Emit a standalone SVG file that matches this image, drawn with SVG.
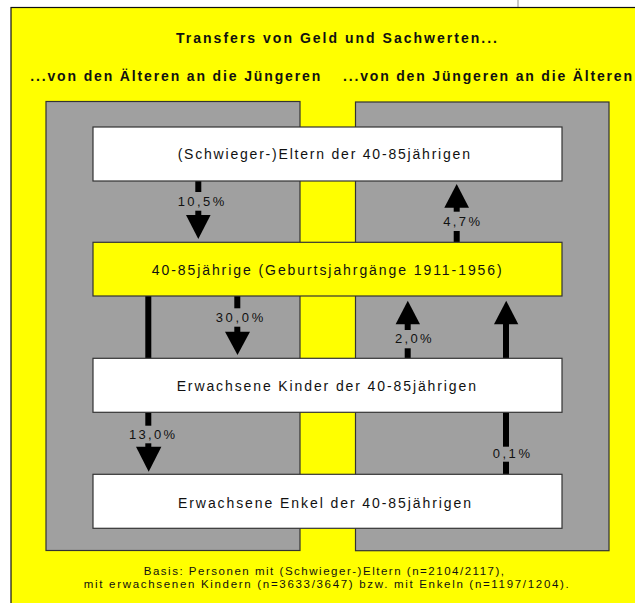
<svg xmlns="http://www.w3.org/2000/svg" width="635" height="603" viewBox="0 0 635 603">
<style>
text{font-family:"Liberation Sans",Arial,sans-serif;fill:#111;text-anchor:middle}
.t{font-size:14px;font-weight:bold}
.n{font-size:14px}
.l{font-size:13px}
.f{font-size:11.5px}
.box{stroke:#333;stroke-width:1.2}
.panel{fill:#a0a0a0;stroke:#333;stroke-width:1.2}
.sh{stroke:#000;stroke-width:6;fill:none}
.hd{fill:#000}
</style>
<rect x="0" y="0" width="635" height="603" fill="#fff"/>
<line x1="518" y1="0" x2="518" y2="8" stroke="#c8c8c8" stroke-width="2"/>
<rect x="11" y="7.5" width="630" height="600" fill="#ffff00" stroke="#111" stroke-width="1.2"/>
<text class="t" x="336.5" y="43" textLength="321" lengthAdjust="spacing">Transfers von Geld und Sachwerten...</text>
<text class="t" x="175.2" y="81.4" textLength="290" lengthAdjust="spacing">...von den Älteren an die Jüngeren</text>
<text class="t" x="487.5" y="81.4" textLength="289" lengthAdjust="spacing">...von den Jüngeren an die Älteren</text>
<rect class="panel" x="46" y="101.5" width="254" height="449"/>
<rect class="panel" x="355.5" y="102" width="253.5" height="448.7"/>
<g id="connectors">
<line class="sh" x1="198.3" y1="181" x2="198.3" y2="192"/>
<line class="sh" x1="198.3" y1="210.7" x2="198.3" y2="216"/>
<polygon class="hd" points="186,215 210.6,215 198.3,239"/>
<line class="sh" x1="148.3" y1="296" x2="148.3" y2="358.3"/>
<line class="sh" x1="237.3" y1="296" x2="237.3" y2="308.3"/>
<line class="sh" x1="237.3" y1="326.7" x2="237.3" y2="332.7"/>
<polygon class="hd" points="225,331.7 250,331.7 237.5,355"/>
<line class="sh" x1="148.3" y1="412.3" x2="148.3" y2="425.7"/>
<line class="sh" x1="148.3" y1="443.3" x2="148.3" y2="447.7"/>
<polygon class="hd" points="136,446.7 161.4,446.7 148.7,471.7"/>
<polygon class="hd" points="444.3,207.7 469,207.7 456.7,184"/>
<line class="sh" x1="456.7" y1="206.7" x2="456.7" y2="211.7"/>
<line class="sh" x1="456.7" y1="231" x2="456.7" y2="242.3"/>
<polygon class="hd" points="395.6,324.3 420,324.3 407.8,300.7"/>
<line class="sh" x1="407.7" y1="323.3" x2="407.7" y2="330"/>
<line class="sh" x1="407.7" y1="348.3" x2="407.7" y2="358.3"/>
<polygon class="hd" points="494,324.3 518.3,324.3 506.2,300.7"/>
<line class="sh" x1="506" y1="323.3" x2="506" y2="358.3"/>
<line class="sh" x1="506" y1="412.3" x2="506" y2="446.7"/>
<line class="sh" x1="506" y1="461.7" x2="506" y2="474.3"/>
</g>
<g id="labels">
<text class="l" x="201" y="206.4" textLength="46.6" lengthAdjust="spacing">10,5%</text>
<text class="l" x="461.6" y="225.7" textLength="36.7" lengthAdjust="spacing">4,7%</text>
<text class="l" x="239.5" y="322" textLength="47.6" lengthAdjust="spacing">30,0%</text>
<text class="l" x="413.3" y="343" textLength="36.7" lengthAdjust="spacing">2,0%</text>
<text class="l" x="152" y="439" textLength="46" lengthAdjust="spacing">13,0%</text>
<text class="l" x="511.3" y="458" textLength="37.3" lengthAdjust="spacing">0,1%</text>
</g>
<g id="eltern">
<rect class="box" x="93" y="127" width="469" height="54" fill="#fff"/>
<text class="n" x="323.8" y="159" textLength="292.3" lengthAdjust="spacing">(Schwieger-)Eltern der 40-85jährigen</text>
</g>
<g id="befragte">
<rect class="box" x="93" y="242.3" width="469" height="53.7" fill="#ffff00"/>
<text class="n" x="326.7" y="275.2" textLength="350" lengthAdjust="spacing">40-85jährige (Geburtsjahrgänge 1911-1956)</text>
</g>
<g id="kinder">
<rect class="box" x="93" y="358.3" width="469" height="54" fill="#fff"/>
<text class="n" x="326.3" y="391" textLength="299.3" lengthAdjust="spacing">Erwachsene Kinder der 40-85jährigen</text>
</g>
<g id="enkel">
<rect class="box" x="93" y="474.3" width="469" height="54" fill="#fff"/>
<text class="n" x="324.5" y="507.8" textLength="293" lengthAdjust="spacing">Erwachsene Enkel der 40-85jährigen</text>
</g>
<text class="f" x="323.9" y="575" textLength="360.3" lengthAdjust="spacing">Basis: Personen mit (Schwieger-)Eltern (n=2104/2117),</text>
<text class="f" x="326.3" y="588.3" textLength="485" lengthAdjust="spacing">mit erwachsenen Kindern (n=3633/3647) bzw. mit Enkeln (n=1197/1204).</text>
</svg>
